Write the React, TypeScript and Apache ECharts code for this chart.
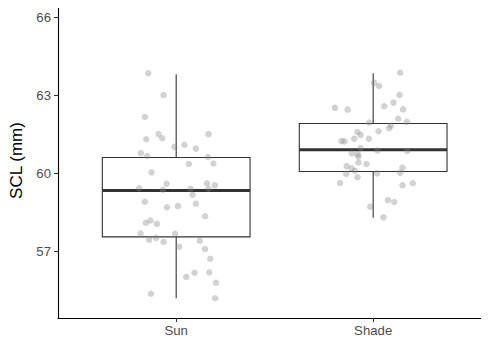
import React, { useEffect, useRef } from "react";
import * as echarts from "echarts";

const categories = ["Sun", "Shade"];
// [min whisker, Q1, median, Q3, max whisker]
const boxStats = [
  [55.2, 57.56, 59.34, 60.61, 63.81],
  [58.29, 60.07, 60.91, 61.92, 63.85],
];
const yTicks = [57, 60, 63, 66];

// jitter offsets (category units) and values
const sunJitter = [-0.142, -0.064, -0.159, -0.09, -0.152, -0.071, 0.164, -0.009, 0.042, 0.1, -0.179, -0.147, 0.161, 0.189, 0.064, -0.125, -0.049, -0.188, -0.068, 0.073, 0.156, 0.196, 0.164, 0.083, -0.159, -0.047, 0.009, 0.1, 0.147, -0.154, -0.13, -0.098, -0.181, -0.005, -0.137, -0.102, -0.064, 0.12, 0.015, 0.146, 0.173, 0.093, 0.051, 0.168, 0.202, -0.128, 0.198];
const sunValues = [63.85, 63.01, 62.17, 61.51, 61.31, 61.35, 61.51, 61.02, 61.1, 60.95, 60.78, 60.67, 60.63, 60.38, 60.36, 60.04, 59.6, 59.43, 59.37, 59.41, 59.62, 59.54, 59.41, 59.18, 58.91, 58.7, 58.74, 58.83, 58.35, 58.1, 58.19, 58.06, 57.69, 57.68, 57.45, 57.52, 57.36, 57.41, 57.18, 57.09, 56.72, 56.18, 56.02, 56.19, 55.79, 55.37, 55.2];
const shadeJitter = [0.137, 0.005, 0.03, 0.134, 0.103, 0.056, 0.152, -0.194, -0.13, 0.127, 0.171, -0.02, 0.09, 0.081, 0.027, -0.08, -0.064, -0.096, -0.022, -0.161, -0.146, -0.064, 0.022, 0.173, -0.108, -0.078, -0.075, -0.075, -0.034, -0.135, -0.11, -0.093, 0.149, 0.137, 0.02, -0.137, -0.08, -0.168, 0.149, 0.201, 0.075, 0.107, -0.015, 0.052];
const shadeValues = [63.87, 63.48, 63.36, 63.02, 62.72, 62.58, 62.46, 62.52, 62.45, 62.1, 61.98, 61.95, 61.83, 61.74, 61.62, 61.59, 61.48, 61.33, 61.33, 61.24, 61.23, 60.97, 60.88, 60.86, 60.77, 60.74, 60.65, 60.42, 60.36, 60.28, 60.2, 60.1, 60.22, 60.02, 60.0, 59.98, 59.85, 59.63, 59.54, 59.62, 58.97, 58.9, 58.72, 58.31];

export default function App() {
  const ref = useRef<HTMLDivElement>(null);
  useEffect(() => {
    if (!ref.current) return;
    const chart = echarts.init(ref.current, undefined, { renderer: "svg" });
    const points: number[][] = [];
    sunJitter.forEach((j, i) => points.push([1 + j, sunValues[i]]));
    shadeJitter.forEach((j, i) => points.push([2 + j, shadeValues[i]]));
    const boxData = boxStats.map((s, i) => [i + 1, ...s]);
    const font = "'Liberation Sans', Arial, sans-serif";
    chart.setOption({
      animation: false,
      grid: { left: 58, right: 0, top: 3, bottom: 27 },
      xAxis: {
        type: "value",
        min: 0.4,
        max: 2.588,
        splitLine: { show: false },
        axisLine: { show: true, lineStyle: { color: "#000", width: 1.1 } },
        axisTick: { show: true, customValues: [1, 2], length: 4, lineStyle: { color: "#333" } },
        axisLabel: {
          customValues: [1, 2],
          formatter: (v: number) => categories[Math.round(v) - 1] ?? "",
          color: "#4d4d4d",
          fontSize: 13.2,
          fontFamily: font,
          margin: 6,
        },
      },
      yAxis: {
        type: "value",
        min: 54.44,
        max: 66.55,
        name: "SCL (mm)",
        nameLocation: "middle",
        nameRotate: 90,
        nameGap: 31.5,
        nameTextStyle: { color: "#000", fontSize: 17, fontFamily: font },
        splitLine: { show: false },
        axisLine: { show: true, lineStyle: { color: "#000", width: 1.1 } },
        axisTick: { show: true, customValues: yTicks, length: 4, lineStyle: { color: "#333" } },
        axisLabel: {
          customValues: yTicks,
          color: "#4d4d4d",
          fontSize: 13.2,
          fontFamily: font,
          margin: 7,
        },
      },
      series: [
        {
          type: "custom",
          data: boxData,
          encode: { x: 0, y: [1, 2, 3, 4, 5] },
          z: 1,
          renderItem: (params: any, api: any) => {
            const x = api.value(0);
            const half = 0.375;
            const lo = api.value(1), q1 = api.value(2), med = api.value(3), q3 = api.value(4), hi = api.value(5);
            const pL = api.coord([x - half, q3]);
            const pR = api.coord([x + half, q1]);
            const pc = (v: number) => api.coord([x, v]);
            const pm1 = api.coord([x - half, med]);
            const pm2 = api.coord([x + half, med]);
            const stroke = "#333";
            return {
              type: "group",
              children: [
                { type: "line", shape: { x1: pc(hi)[0], y1: pc(hi)[1], x2: pc(q3)[0], y2: pc(q3)[1] }, style: { stroke, lineWidth: 1.1 } },
                { type: "line", shape: { x1: pc(q1)[0], y1: pc(q1)[1], x2: pc(lo)[0], y2: pc(lo)[1] }, style: { stroke, lineWidth: 1.1 } },
                { type: "rect", shape: { x: pL[0], y: pL[1], width: pR[0] - pL[0], height: pR[1] - pL[1] }, style: { fill: "#fff", stroke, lineWidth: 1.1 } },
                { type: "line", shape: { x1: pm1[0], y1: pm1[1], x2: pm2[0], y2: pm2[1] }, style: { stroke, lineWidth: 3 } },
              ],
            };
          },
        },
        {
          type: "scatter",
          data: points,
          z: 2,
          symbolSize: 6.5,
          itemStyle: { color: "rgba(130,130,130,0.45)" },
        },
      ],
    });
    return () => chart.dispose();
  }, []);
  return <div ref={ref} style={{ width: 489, height: 345, margin: -8 }} />;
}
